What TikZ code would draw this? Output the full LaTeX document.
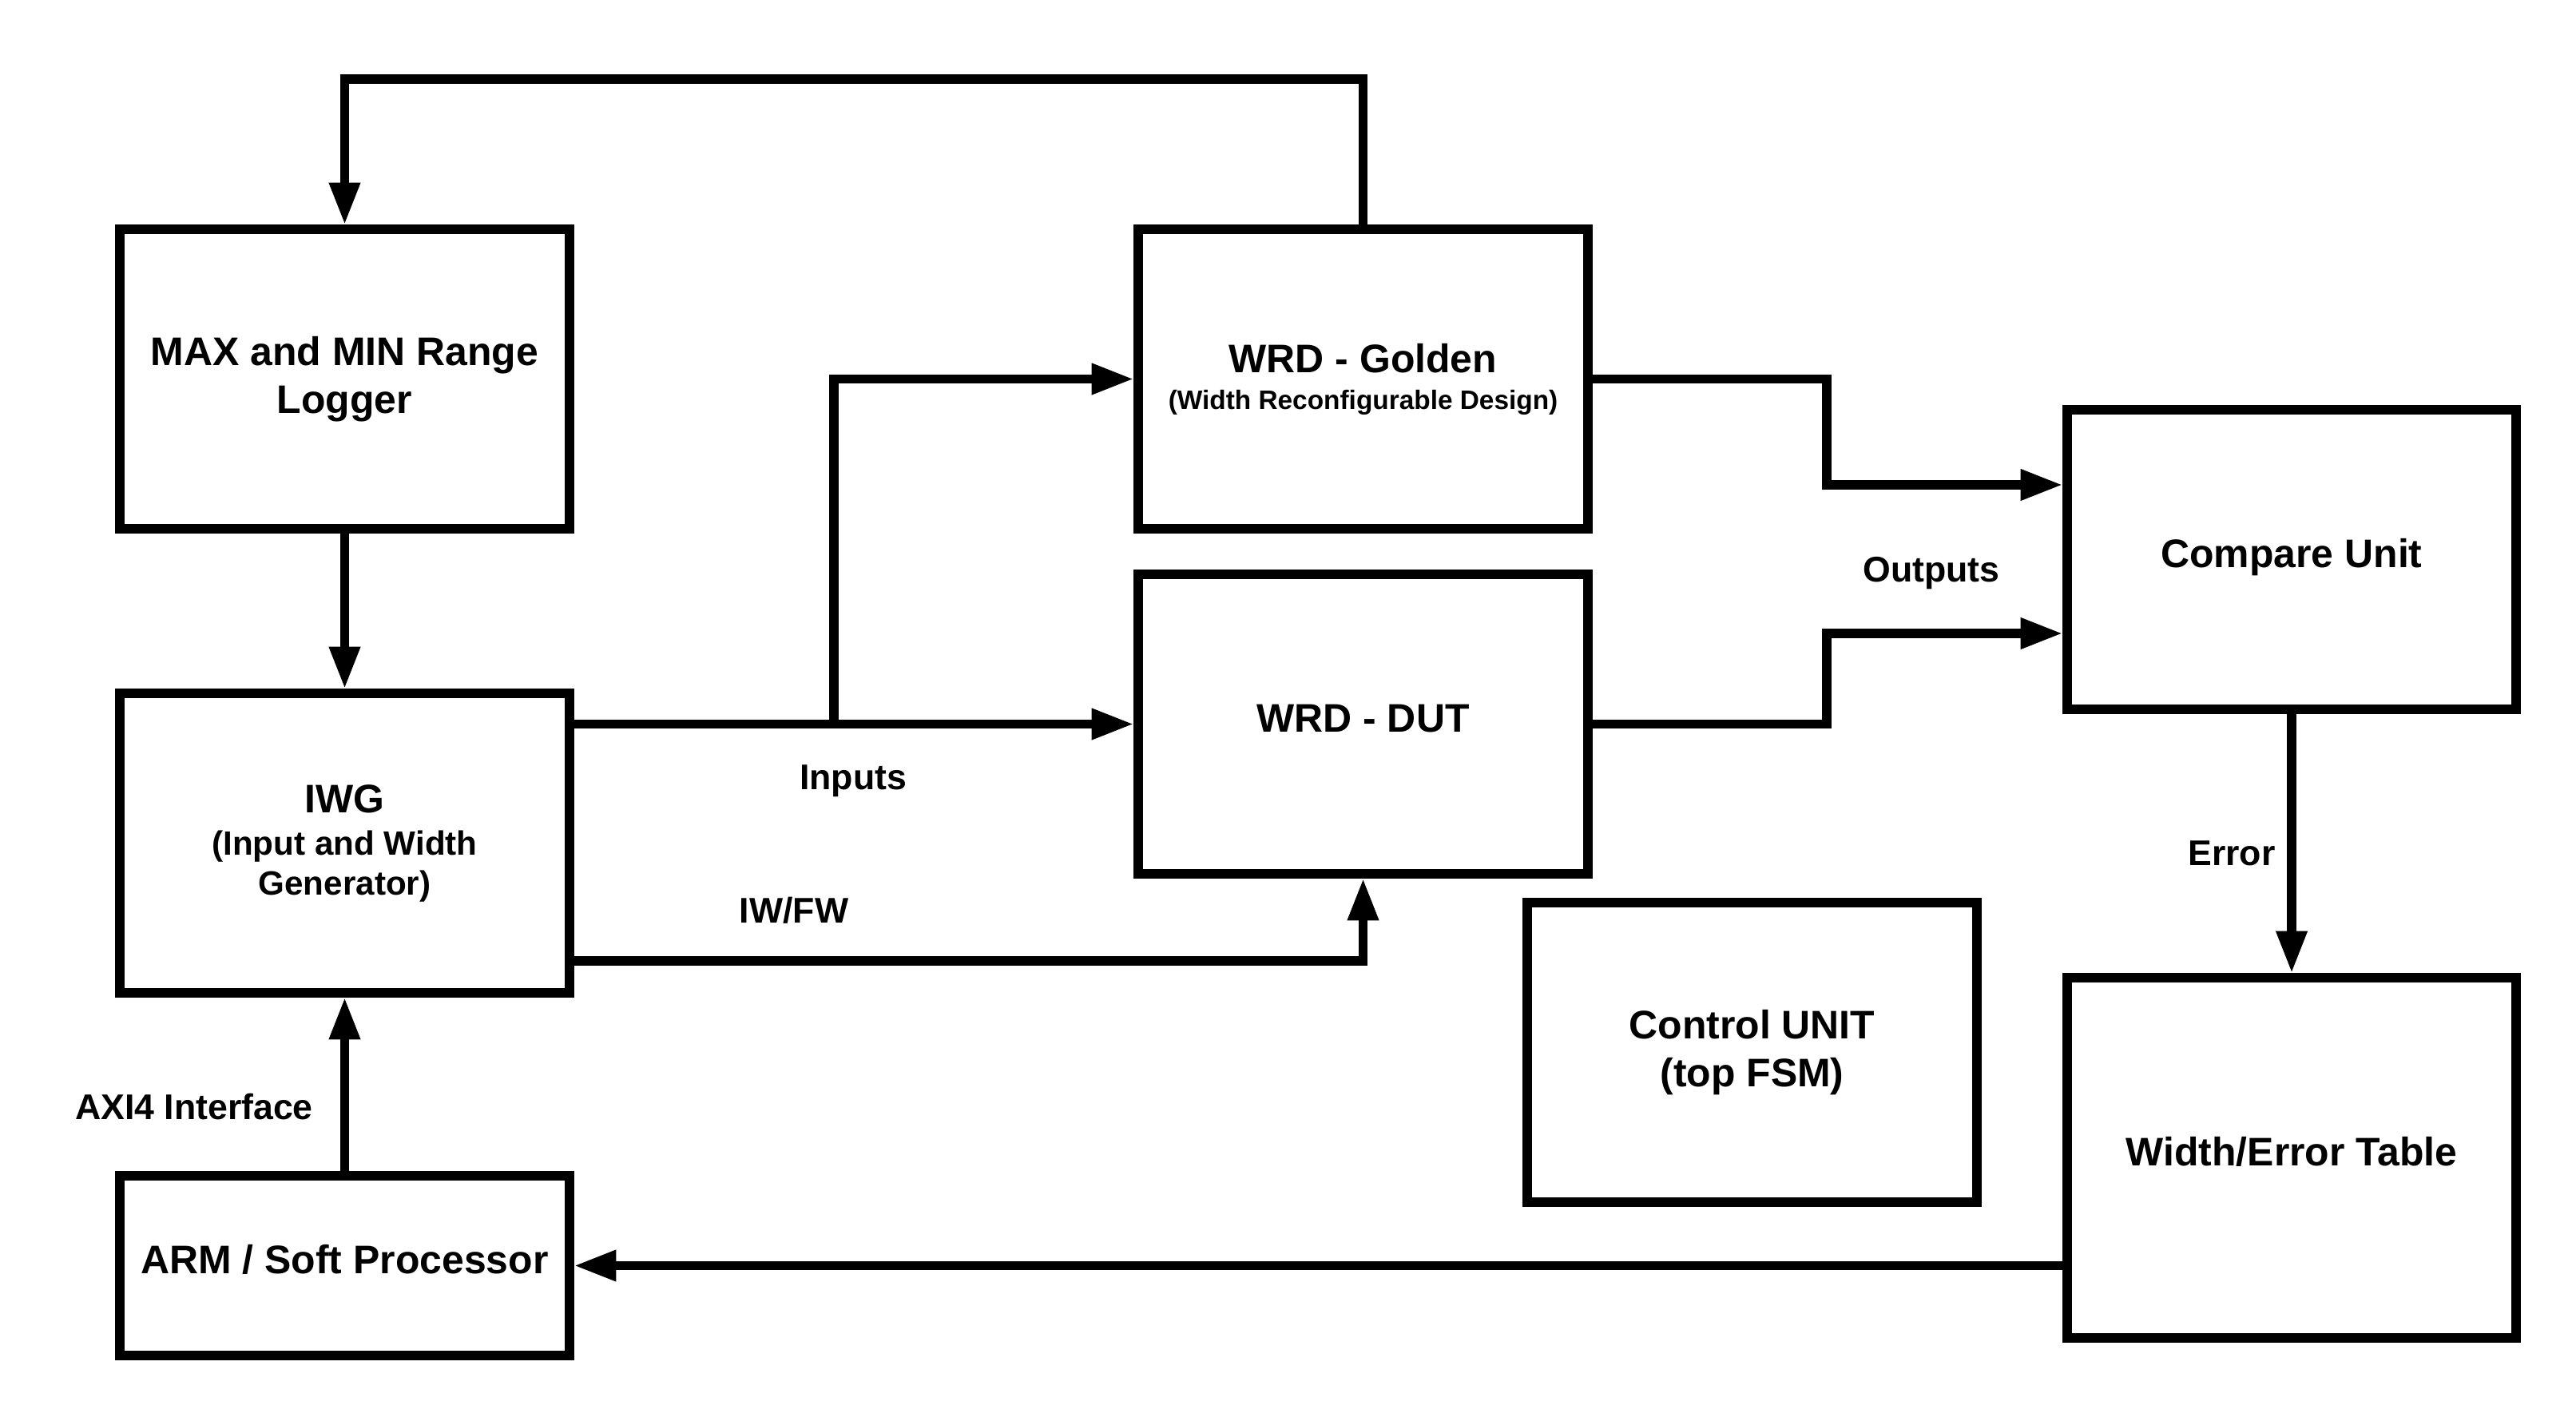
\documentclass[tikz,border=0pt]{standalone}
\usepackage{fontspec}
\setmainfont{Liberation Sans}
\usetikzlibrary{arrows.meta}

\begin{document}
\begin{tikzpicture}
	\tikzstyle{every node}+=[inner sep=0pt, font=\fontsize{14.2}{17}\selectfont\bfseries]
	\tikzstyle{block}=[draw=black, line width=3.2pt, align=center, minimum width=5.63cm, minimum height=3.75cm]
	\tikzstyle{oneline}=[text height=10pt, text depth=4.4pt]
	\tikzstyle{lbl}=[anchor=base, font=\fontsize{12.7}{15}\selectfont\bfseries]
	\tikzstyle{wire}=[black, line width=3.2pt, -{Triangle[length=15pt, width=10.4pt]}]
	\useasboundingbox (0,0) rectangle (32.25,-17.79);
	\node [block] (max) at (4.315,-4.745) {MAX and MIN Range\\Logger};
	\node [block] (iwg) at (4.315,-10.555) {IWG\\[-1.7pt]{\fontsize{12}{14}\selectfont (Input and Width}\\[-3pt]{\fontsize{12}{14}\selectfont Generator)}};
	\node [block, oneline, minimum height=2.25cm] (arm) at (4.315,-15.845) {ARM / Soft Processor};
	\node [block] (gold) at (17.065,-4.745) {WRD - Golden\\[-3.9pt]{\fontsize{9.5}{11}\selectfont (Width Reconfigurable Design)}};
	\node [block, oneline] (dut) at (17.065,-9.065) {WRD - DUT};
	\node [block, oneline, minimum width=5.62cm] (cmp) at (28.69,-7.005) {Compare Unit};
	\node [block] (ctrl) at (21.935,-13.175) {Control UNIT\\(top FSM)};
	\node [block, oneline, minimum width=5.62cm, minimum height=4.51cm] (wet) at (28.69,-14.495) {Width/Error Table};
	\coordinate (fbk) at (4.315,-0.99);
	\coordinate (br) at (10.44,-9.065);
	\coordinate (iwfw) at (0,-12.03);
	\coordinate (go) at (22.87,-6.07);
	\coordinate (du) at (22.87,-7.93);
	\draw [wire] (gold.north) |- (fbk) -- (max.north);
	\draw [wire] (max) -- (iwg);
	\draw [wire] (arm) -- (iwg);
	\draw [wire] (iwg.east |- dut.west) -- (dut.west);
	\draw [wire] (br) |- (gold.west);
	\draw [wire] (iwg.east |- iwfw) -| (dut.south);
	\draw [wire] (gold.east) -| (go) -- (cmp.west |- go);
	\draw [wire] (dut.east) -| (du) -- (cmp.west |- du);
	\draw [wire] (cmp) -- (wet);
	\draw [wire] (wet.west |- arm.east) -- (arm.east);
	\node [lbl] (inputs) at (10.68,-9.88) {Inputs};
	\node [lbl] (iwfwlbl) at (9.94,-11.55) {IW/FW};
	\node [lbl] (outputs) at (24.18,-7.28) {Outputs};
	\node [lbl] (error) at (27.94,-10.83) {Error};
	\node [lbl] (axi) at (2.43,-14.01) {AXI4 Interface};
\end{tikzpicture}
\end{document}
